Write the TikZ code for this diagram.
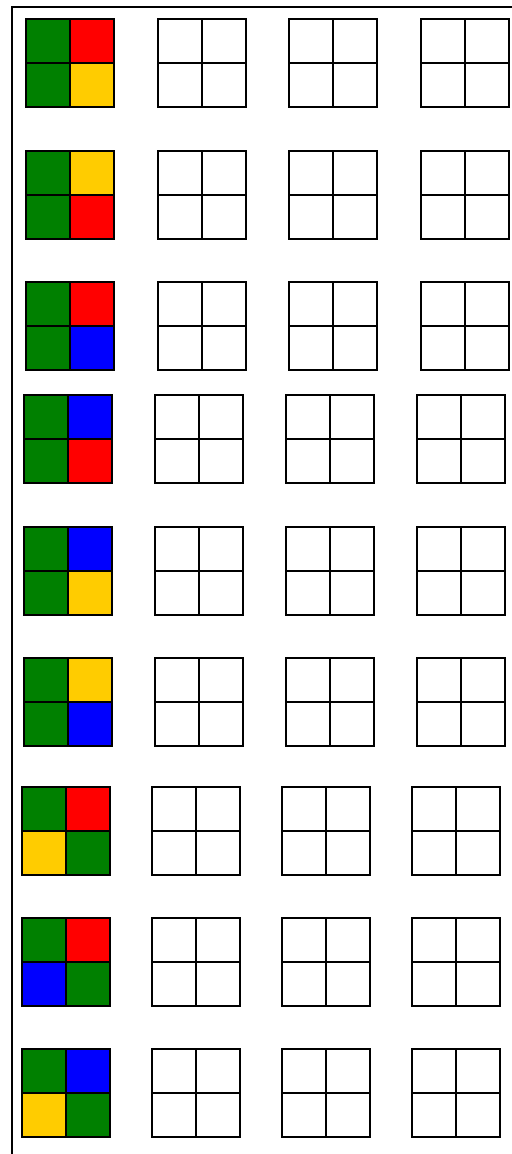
\documentclass[tikz,border=0pt]{standalone}
\usepackage{tikz}
\usepackage{amsmath}
\usepackage{amssymb}

\definecolor{cgreen}{RGB}{0,128,0}
\definecolor{cred}{RGB}{255,0,0}
\definecolor{cyellow}{RGB}{255,204,0}
\definecolor{cblue}{RGB}{0,0,255}

\begin{document}
\begin{tikzpicture}[x=0.5pt,y=-0.5pt,line width=1pt]
\useasboundingbox (0,0) rectangle (512,1154);
\draw (12,1154) -- (12,7) -- (512,7);
% row 1
\draw[fill=cgreen] (26,19) rectangle ++(44,44);
\draw[fill=cred] (70,19) rectangle ++(44,44);
\draw[fill=cgreen] (26,63) rectangle ++(44,44);
\draw[fill=cyellow] (70,63) rectangle ++(44,44);
% row 2
\draw[fill=cgreen] (26,151) rectangle ++(44,44);
\draw[fill=cyellow] (70,151) rectangle ++(44,44);
\draw[fill=cgreen] (26,195) rectangle ++(44,44);
\draw[fill=cred] (70,195) rectangle ++(44,44);
% row 3
\draw[fill=cgreen] (26,282) rectangle ++(44,44);
\draw[fill=cred] (70,282) rectangle ++(44,44);
\draw[fill=cgreen] (26,326) rectangle ++(44,44);
\draw[fill=cblue] (70,326) rectangle ++(44,44);
% row 4
\draw[fill=cgreen] (24,395) rectangle ++(44,44);
\draw[fill=cblue] (68,395) rectangle ++(44,44);
\draw[fill=cgreen] (24,439) rectangle ++(44,44);
\draw[fill=cred] (68,439) rectangle ++(44,44);
% row 5
\draw[fill=cgreen] (24,527) rectangle ++(44,44);
\draw[fill=cblue] (68,527) rectangle ++(44,44);
\draw[fill=cgreen] (24,571) rectangle ++(44,44);
\draw[fill=cyellow] (68,571) rectangle ++(44,44);
% row 6
\draw[fill=cgreen] (24,658) rectangle ++(44,44);
\draw[fill=cyellow] (68,658) rectangle ++(44,44);
\draw[fill=cgreen] (24,702) rectangle ++(44,44);
\draw[fill=cblue] (68,702) rectangle ++(44,44);
% row 7
\draw[fill=cgreen] (22,787) rectangle ++(44,44);
\draw[fill=cred] (66,787) rectangle ++(44,44);
\draw[fill=cyellow] (22,831) rectangle ++(44,44);
\draw[fill=cgreen] (66,831) rectangle ++(44,44);
% row 8
\draw[fill=cgreen] (22,918) rectangle ++(44,44);
\draw[fill=cred] (66,918) rectangle ++(44,44);
\draw[fill=cblue] (22,962) rectangle ++(44,44);
\draw[fill=cgreen] (66,962) rectangle ++(44,44);
% row 9
\draw[fill=cgreen] (22,1049) rectangle ++(44,44);
\draw[fill=cblue] (66,1049) rectangle ++(44,44);
\draw[fill=cyellow] (22,1093) rectangle ++(44,44);
\draw[fill=cgreen] (66,1093) rectangle ++(44,44);
% empty grids
\foreach \y/\xa/\xb/\xc in {19/158/289/421, 151/158/289/421, 282/158/289/421,
  395/155/286/417, 527/155/286/417, 658/155/286/417,
  787/152/282/412, 918/152/282/412, 1049/152/282/412} {
  \foreach \x in {\xa,\xb,\xc} {
    \draw (\x,\y) rectangle ++(88,88);
    \draw (\x+44,\y) -- ++(0,88);
    \draw (\x,\y+44) -- ++(88,0);
  }
}
\end{tikzpicture}
\end{document}
